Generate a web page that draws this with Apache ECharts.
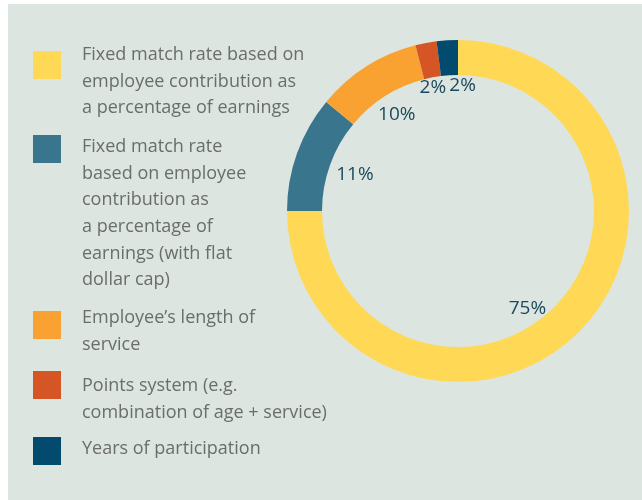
<!DOCTYPE html>
<html>
<head>
<meta charset="utf-8">
<script src="https://cdn.jsdelivr.net/npm/echarts@6/dist/echarts.min.js"></script>
<style>
    html, body { margin: 0; padding: 0; background: #ffffff; }
    #chart { width: 642px; height: 500px; }
</style>
</head>
<body>
<div id="chart"></div>
<script>
// ============================================
// 数据
// ============================================
const categories = [
    'Fixed match rate based on\nemployee contribution as\na percentage of earnings',
    'Fixed match rate\nbased on employee\ncontribution as\na percentage of\nearnings (with flat\ndollar cap)',
    'Employee\u2019s length of\nservice',
    'Points system (e.g.\ncombination of age + service)',
    'Years of participation'
];
const shares = [75, 11, 10, 2, 2];
const colors = ['#ffd955', '#3a758e', '#f9a131', '#d55524', '#034b6e'];

// 图例布局 (方块顶部 / 文字首行中心)
const legendBoxTop = [51, 135, 311, 371, 437];
const legendTextMid = [55, 147, 318, 386, 449];
// 百分比标签微调
const labelNudge = [[-14, 14], [8, 4], [2, 3], [-3, -7], [12, -8]];

const BG = '#dce5e0';
const LINE_H = 26.6;

// ============================================
// 图例 (graphic)
// ============================================
function buildLegend() {
    const items = [];
    categories.forEach((name, i) => {
        items.push({
            type: 'rect',
            shape: { x: 33, y: legendBoxTop[i], width: 28, height: 28 },
            style: { fill: colors[i] },
            silent: true
        });
        items.push({
            type: 'text',
            x: 82,
            y: legendTextMid[i] - LINE_H / 2,
            style: {
                text: name,
                fill: '#6b6d6d',
                font: '18px "Open Sans"',
                lineHeight: LINE_H,
                verticalAlign: 'top',
                align: 'left'
            },
            silent: true
        });
    });
    return items;
}

function init() {
    const chart = echarts.init(document.getElementById('chart'));
    const pieData = shares.map((v, i) => ({
        value: v,
        name: categories[i],
        itemStyle: { color: colors[i] }
    }));
    const labelData = shares.map((v, i) => ({
        value: v,
        name: categories[i],
        label: { offset: labelNudge[i] }
    }));

    const option = {
        backgroundColor: '#ffffff',
        animation: false,
        graphic: [
            {
                type: 'rect',
                shape: { x: 8, y: 4, width: 634, height: 496 },
                style: { fill: BG },
                z: -10,
                silent: true
            },
            ...buildLegend()
        ],
        series: [
            {
                type: 'pie',
                center: [458, 211],
                radius: [136, 171],
                startAngle: 90,
                clockwise: true,
                silent: true,
                label: { show: false },
                labelLine: { show: false },
                emphasis: { disabled: true },
                data: pieData
            },
            {
                // 仅用于放置百分比标签 (透明)
                type: 'pie',
                center: [458, 211],
                radius: [0, 230],
                startAngle: 90,
                clockwise: true,
                silent: true,
                itemStyle: { color: 'rgba(0,0,0,0)' },
                label: {
                    show: true,
                    position: 'inside',
                    formatter: '{c}%',
                    color: '#1c4a5c',
                    fontFamily: 'Open Sans',
                    fontSize: 19
                },
                labelLine: { show: false },
                emphasis: { disabled: true },
                data: labelData
            }
        ]
    };
    chart.setOption(option);
}

document.addEventListener('DOMContentLoaded', init);
</script>
</body>
</html>
